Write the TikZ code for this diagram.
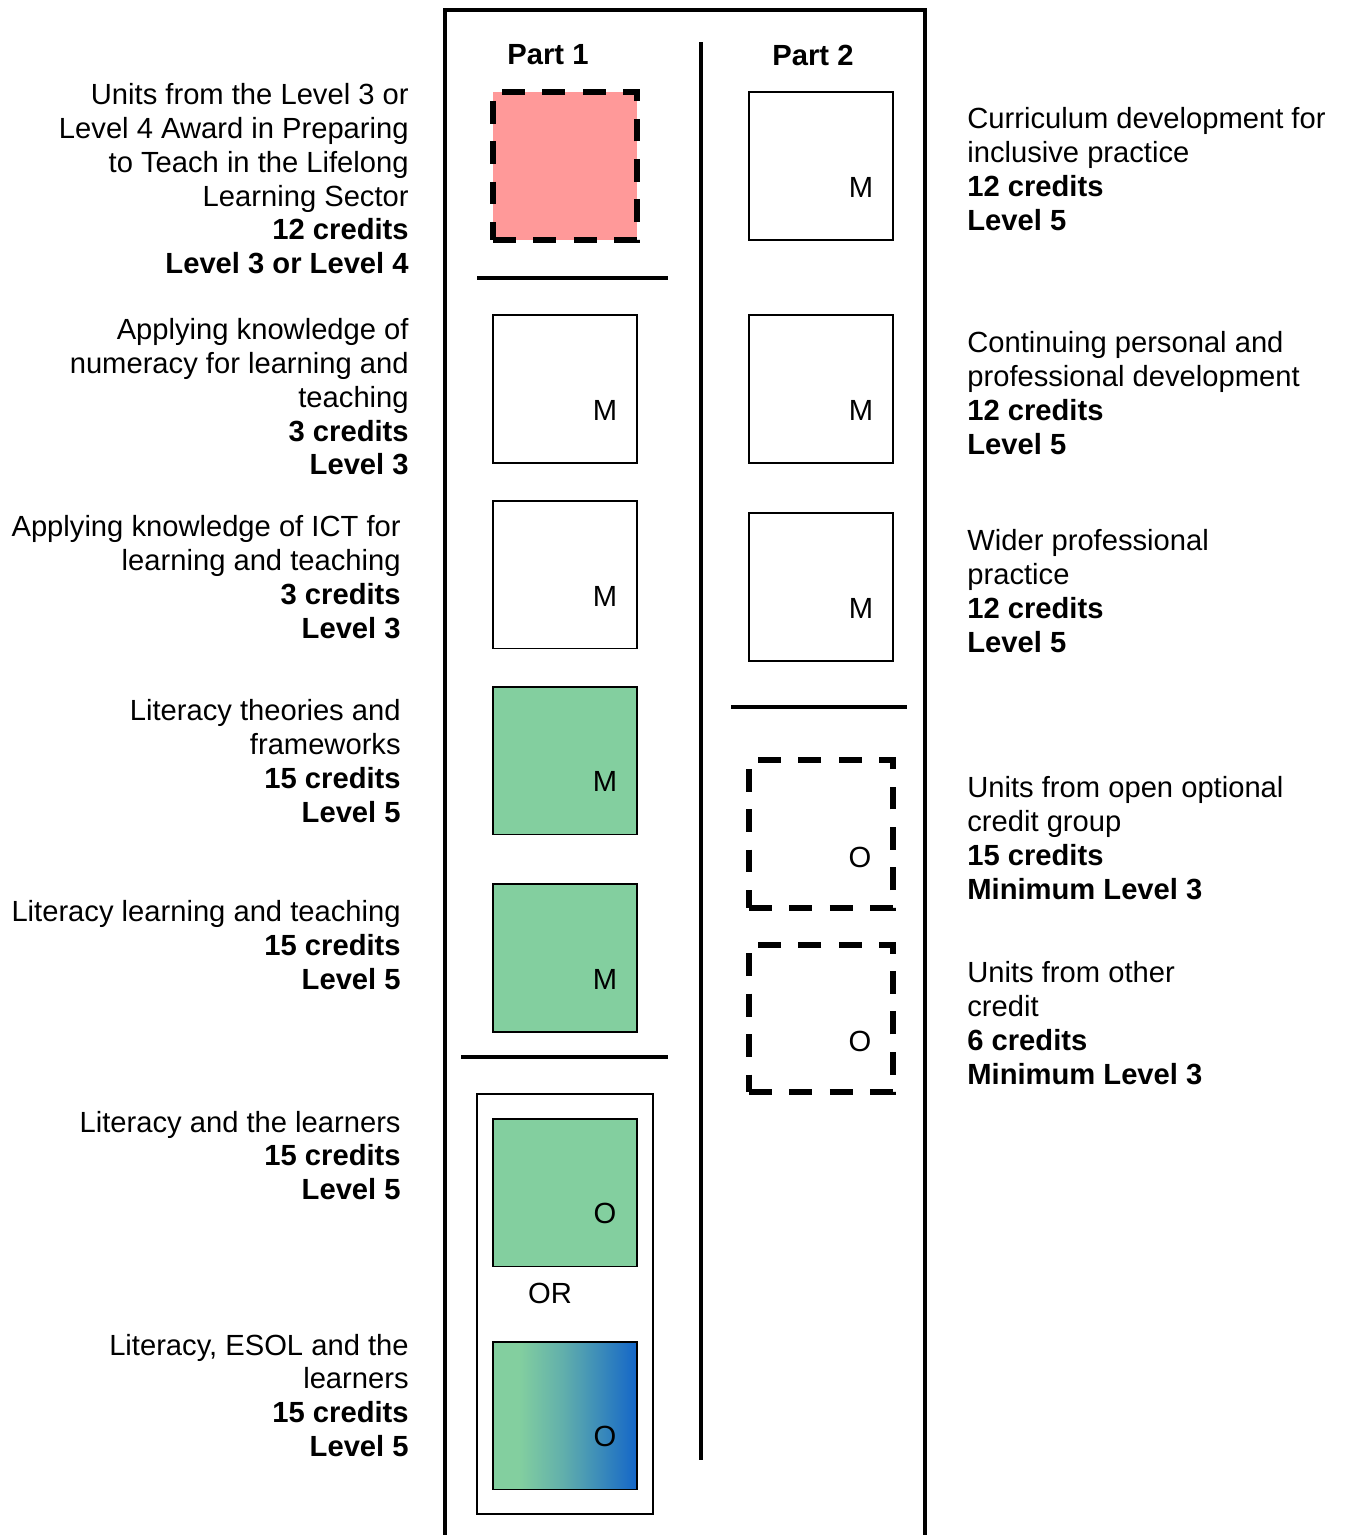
\documentclass[tikz,border=0pt]{standalone}
\usepackage{fontspec}
\setmainfont{Liberation Sans}
\usetikzlibrary{positioning}
\definecolor{rosa}{HTML}{FF9999}
\definecolor{vert}{HTML}{83CF9F}
\definecolor{bleu}{HTML}{1466C8}
\colorlet{vertmix}{vert!68!bleu}
\pgfdeclarehorizontalshading{vertbleu}{100bp}{color(0bp)=(vert); color(25bp)=(vert); color(34bp)=(vert); color(50bp)=(vertmix); color(75bp)=(bleu); color(100bp)=(bleu)}
\tikzset{
  cell/.style={rectangle, draw=black, line width=1.1pt, fill=#1,
               minimum width=81.9pt, minimum height=84.2pt, inner sep=0pt},
  optcell/.style={rectangle, draw=black, line width=3.4pt, dash pattern=on 13pt off 10pt, fill=#1,
                  minimum width=81.9pt, minimum height=84.2pt, inner sep=0pt},
  lbl/.style={anchor=north east, align=right, inner sep=0pt},
  lblr/.style={anchor=north west, align=left, inner sep=0pt},
  bar/.style={line width=2.8pt, line join=miter},
}

\begin{document}
\begin{tikzpicture}[x=0.02cm, y=-0.02cm, font=\fontsize{16.6}{19.2}\selectfont]
  \useasboundingbox (0,0) rectangle (1345,1535);
  % frame and dividers
  \draw[bar] (445,1540) |- (925,10) -- (925,1540);
  \draw[bar] (701,42) -- (701,1460);
  \draw[bar] (477,278) -- (668,278);
  \draw[bar] (461,1057) -- (668,1057);
  \draw[bar] (731,707) -- (907,707);
  \draw[line width=1.1pt] (477,1094) rectangle (653,1514);

  \node[font=\fontsize{16.6}{19.2}\selectfont\bfseries] (hd1) at (548,55) {Part 1};
  \node[font=\fontsize{16.6}{19.2}\selectfont\bfseries] (hd2) at (813,55) {Part 2};

  % part 1
  \node[optcell=rosa] (a1) at (565,166) {};
  \node[cell=white] (a2) at (565,389) {};
  \node[cell=white] (a3) at (565,574.5) {};
  \node[cell=vert] (a4) at (565,760.5) {};
  \node[cell=vert] (a5) at (565,958) {};
  \node[cell=vert] (a6) at (565,1192.5) {};
  \node[cell=vert, shading=vertbleu] (a7) at (565,1415.5) {};
  \node (ma2) at (605,410) {M};
  \node (ma3) at (605,596) {M};
  \node (ma4) at (605,781) {M};
  \node (ma5) at (605,979) {M};
  \node (ma6) at (605,1213) {O};
  \node (ma7) at (605,1436) {O};
  \node (or) at (550,1293) {OR};

  % part 2
  \node[cell=white] (b1) at (821,166) {};
  \node[cell=white] (b2) at (821,389) {};
  \node[cell=white] (b3) at (821,587) {};
  \node[optcell=white] (b4) at (821,834) {};
  \node[optcell=white] (b5) at (821,1018.5) {};
  \node (mb1) at (861,187) {M};
  \node (mb2) at (861,410) {M};
  \node (mb3) at (861,608) {M};
  \node (mb4) at (860,857) {O};
  \node (mb5) at (860,1041) {O};

  % left texts
  \node[lbl] (la1) at (409,83.5) {Units from the Level 3 or\\Level 4 Award in Preparing\\to Teach in the Lifelong\\Learning Sector\\\textbf{12 credits}\\\textbf{Level 3 or Level 4}};
  \node[lbl] (la2) at (409,318.5) {Applying knowledge of\\numeracy for learning and\\teaching\\\textbf{3 credits}\\\textbf{Level 3}};
  \node[lbl] (la3) at (401,515.5) {Applying knowledge of ICT for\\learning and teaching\\\textbf{3 credits}\\\textbf{Level 3}};
  \node[lbl] (la4) at (401,699.5) {Literacy theories and\\frameworks\\\textbf{15 credits}\\\textbf{Level 5}};
  \node[lbl] (la5) at (401,900.5) {Literacy learning and teaching\\\textbf{15 credits}\\\textbf{Level 5}};
  \node[lbl] (la6) at (401,1110.5) {Literacy and the learners\\\textbf{15 credits}\\\textbf{Level 5}};
  \node[lbl] (la7) at (409,1333.5) {Literacy, ESOL and the\\learners\\\textbf{15 credits}\\\textbf{Level 5}};

  % right texts
  \node[lblr] (lb1) at (967,107.5) {Curriculum development for\\inclusive practice\\\textbf{12 credits}\\\textbf{Level 5}};
  \node[lblr] (lb2) at (967,331.5) {Continuing personal and\\professional development\\\textbf{12 credits}\\\textbf{Level 5}};
  \node[lblr] (lb3) at (967,529.5) {Wider professional\\practice\\\textbf{12 credits}\\\textbf{Level 5}};
  \node[lblr] (lb4) at (967,776.5) {Units from open optional\\credit group\\\textbf{15 credits}\\\textbf{Minimum Level 3}};
  \node[lblr] (lb5) at (967,961.5) {Units from other\\credit\\\textbf{6 credits}\\\textbf{Minimum Level 3}};
\end{tikzpicture}
\end{document}
